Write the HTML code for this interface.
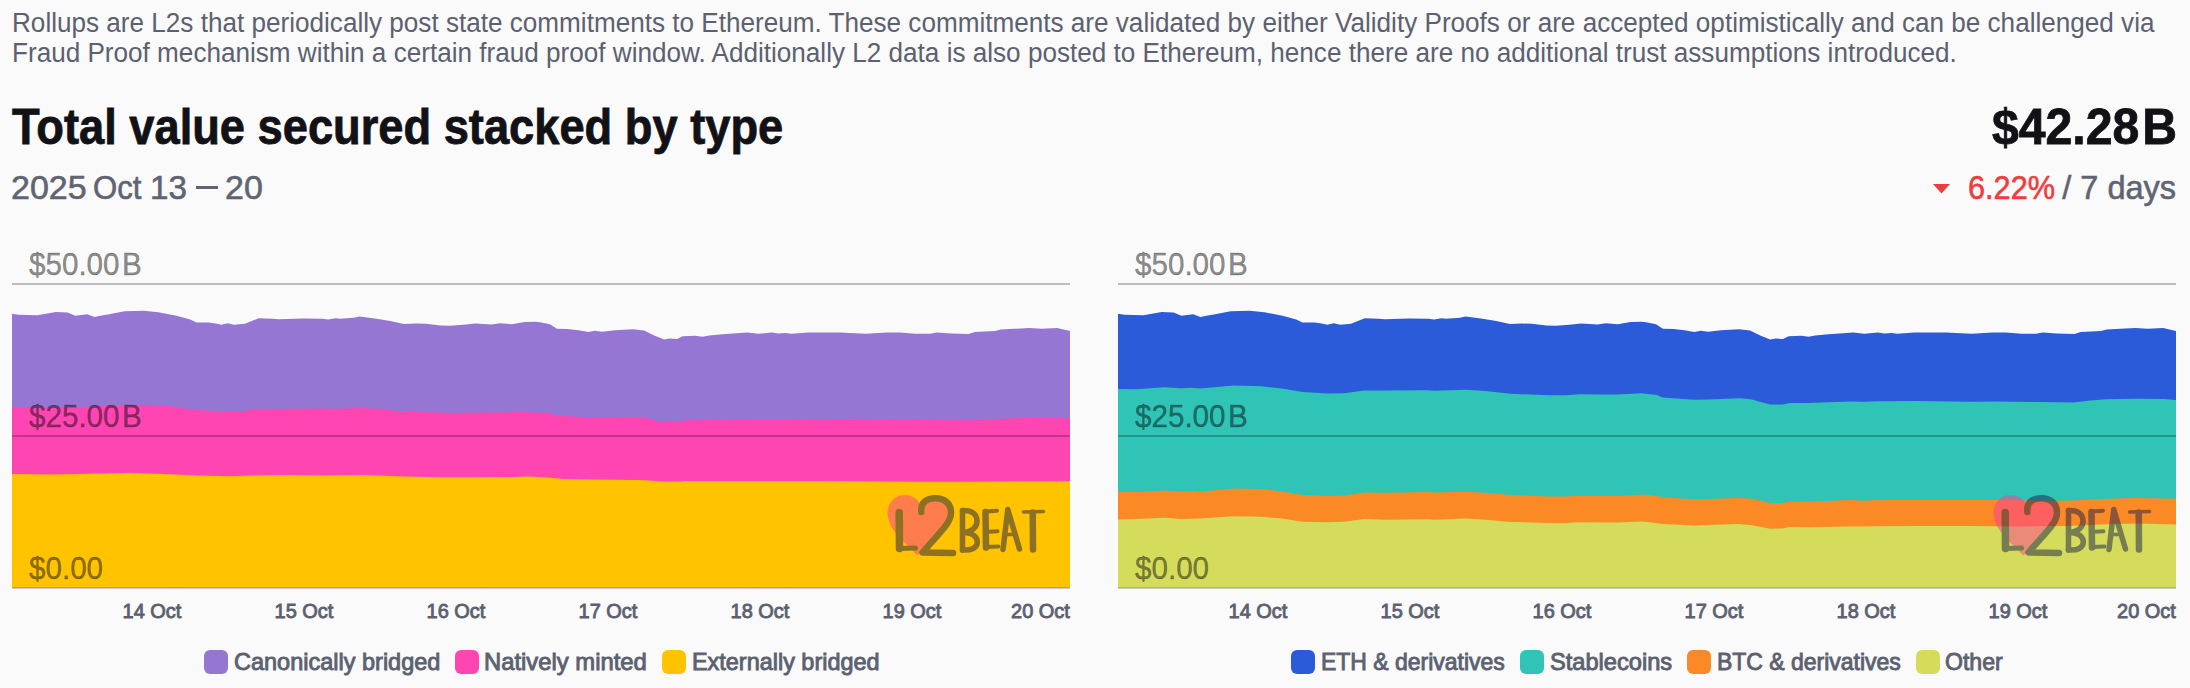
<!DOCTYPE html>
<html><head><meta charset="utf-8">
<style>
*{margin:0;padding:0;box-sizing:border-box}
html,body{width:2190px;height:688px;overflow:hidden;background:#fafafa}
body{position:relative;font-family:"Liberation Sans",sans-serif}
.t{position:absolute;white-space:nowrap;line-height:1}
.sw{position:absolute;width:24px;height:24px;border-radius:6px}
</style></head>
<body>
<svg width="2190" height="688" style="position:absolute;left:0;top:0">
<path d="M12.0 588.0 L12.0 313.7 L18.5 314.7 L37.5 315.2 L55.8 312.1 L67.6 312.4 L75.4 315.7 L87.2 314.3 L94.4 317.0 L101.6 315.4 L108.0 314.5 L124.5 311.2 L143.7 310.8 L158.3 312.3 L176.5 315.7 L190.2 319.6 L196.6 322.4 L208.5 322.6 L215.8 323.6 L221.3 324.8 L227.7 323.3 L234.1 324.8 L245.0 323.7 L258.7 318.3 L272.4 318.7 L278.8 319.2 L302.6 318.5 L322.6 318.7 L328.1 319.6 L335.4 318.3 L340.0 318.7 L353.7 317.8 L359.6 316.4 L376.5 318.7 L390.2 321.0 L403.9 323.9 L415.8 323.6 L425.8 323.7 L440.5 325.6 L449.6 325.8 L463.3 324.8 L475.2 323.6 L491.6 324.5 L499.8 323.3 L511.7 324.2 L524.5 322.1 L535.4 321.7 L540.0 322.3 L550.0 324.2 L556.9 328.7 L567.4 329.0 L578.4 330.3 L588.4 331.9 L594.8 330.8 L602.1 331.7 L614.9 330.3 L633.2 329.2 L644.1 330.5 L654.2 335.6 L664.2 339.4 L669.7 338.5 L677.0 339.0 L682.5 336.3 L695.3 335.8 L702.6 336.7 L709.0 335.4 L722.6 334.2 L740.0 333.1 L747.3 332.4 L758.3 333.7 L772.0 332.6 L778.4 333.6 L785.7 333.0 L791.1 333.7 L808.5 332.4 L840.5 332.4 L849.6 333.0 L866.0 333.7 L886.1 332.4 L899.8 332.4 L915.5 333.8 L930.1 333.8 L936.5 332.4 L951.1 333.6 L968.5 334.0 L974.9 332.0 L995.0 331.0 L1000.5 329.4 L1014.2 328.8 L1029.7 328.1 L1041.6 328.8 L1057.1 328.1 L1070.0 331.0 L1070.0 588.0 Z" fill="#9577d3"/>
<path d="M12.0 588.0 L12.0 407.4 L28.0 408.1 L65.2 407.2 L92.9 406.7 L123.3 404.7 L148.1 404.9 L168.8 406.0 L189.6 409.5 L219.9 411.3 L237.9 411.6 L258.6 409.1 L280.0 408.9 L321.4 408.5 L331.1 409.1 L360.1 408.1 L379.4 409.1 L404.3 411.6 L438.8 412.7 L466.5 412.7 L494.1 412.5 L521.7 411.9 L550.0 413.0 L555.5 415.4 L587.3 417.4 L605.2 417.4 L632.9 416.8 L646.7 418.2 L663.3 421.9 L677.1 421.9 L684.0 420.6 L715.7 420.1 L743.4 419.2 L764.1 419.9 L791.7 419.6 L820.0 419.2 L837.6 419.2 L868.0 419.9 L906.7 419.6 L934.3 420.1 L966.1 420.6 L989.6 419.2 L1031.0 417.8 L1055.9 417.8 L1070.0 418.8 L1070.0 588.0 Z" fill="#ff45b2"/>
<path d="M12.0 588.0 L12.0 474.0 L51.4 474.4 L79.0 474.0 L127.4 473.0 L148.1 473.5 L175.8 474.4 L196.5 475.5 L231.0 476.2 L251.7 475.5 L280.0 475.0 L325.6 475.4 L361.5 475.1 L404.3 476.5 L438.8 477.2 L473.4 477.2 L514.8 476.9 L528.6 476.5 L550.0 477.8 L563.8 479.0 L591.4 479.5 L639.8 479.9 L664.6 481.6 L678.5 481.6 L684.0 480.9 L743.4 480.9 L820.0 480.9 L865.2 481.3 L920.5 481.7 L966.1 481.7 L1017.2 481.3 L1070.0 481.3 L1070.0 588.0 Z" fill="#ffc300"/>
<path d="M1118.0 588.0 L1118.0 313.7 L1124.5 314.7 L1143.5 315.2 L1161.8 312.1 L1173.6 312.4 L1181.4 315.7 L1193.2 314.3 L1200.4 317.0 L1207.6 315.4 L1214.0 314.5 L1230.5 311.2 L1249.7 310.8 L1264.3 312.3 L1282.5 315.7 L1296.2 319.6 L1302.6 322.4 L1314.5 322.6 L1321.8 323.6 L1327.3 324.8 L1333.7 323.3 L1340.1 324.8 L1351.0 323.7 L1364.7 318.3 L1378.4 318.7 L1384.8 319.2 L1408.6 318.5 L1428.6 318.7 L1434.1 319.6 L1441.4 318.3 L1446.0 318.7 L1459.7 317.8 L1465.6 316.4 L1482.5 318.7 L1496.2 321.0 L1509.9 323.9 L1521.8 323.6 L1531.8 323.7 L1546.5 325.6 L1555.6 325.8 L1569.3 324.8 L1581.2 323.6 L1597.6 324.5 L1605.8 323.3 L1617.7 324.2 L1630.5 322.1 L1641.4 321.7 L1646.0 322.3 L1656.0 324.2 L1662.9 328.7 L1673.4 329.0 L1684.4 330.3 L1694.4 331.9 L1700.8 330.8 L1708.1 331.7 L1720.9 330.3 L1739.2 329.2 L1750.1 330.5 L1760.2 335.6 L1770.2 339.4 L1775.7 338.5 L1783.0 339.0 L1788.5 336.3 L1801.3 335.8 L1808.6 336.7 L1815.0 335.4 L1828.6 334.2 L1846.0 333.1 L1853.3 332.4 L1864.3 333.7 L1878.0 332.6 L1884.4 333.6 L1891.7 333.0 L1897.1 333.7 L1914.5 332.4 L1946.5 332.4 L1955.6 333.0 L1972.0 333.7 L1992.1 332.4 L2005.8 332.4 L2021.5 333.8 L2036.1 333.8 L2042.5 332.4 L2057.1 333.6 L2074.5 334.0 L2080.9 332.0 L2101.0 331.0 L2106.5 329.4 L2120.2 328.8 L2135.7 328.1 L2147.6 328.8 L2163.1 328.1 L2176.0 331.0 L2176.0 588.0 Z" fill="#2b5bd8"/>
<path d="M1118.0 588.0 L1118.0 389.1 L1136.7 389.3 L1164.3 387.3 L1180.9 388.2 L1192.0 387.7 L1200.3 388.4 L1233.4 385.6 L1261.0 386.3 L1281.7 388.6 L1302.5 392.1 L1327.3 393.5 L1343.9 393.2 L1364.6 390.4 L1386.0 390.6 L1427.4 390.3 L1434.3 390.7 L1466.1 389.8 L1485.4 391.0 L1510.3 393.8 L1549.0 395.3 L1565.6 395.3 L1579.4 394.3 L1600.1 394.6 L1618.0 394.6 L1641.5 393.2 L1650.0 394.2 L1656.9 395.1 L1662.4 397.6 L1694.2 399.7 L1708.0 399.4 L1739.8 398.3 L1750.8 399.3 L1770.2 404.5 L1782.6 404.5 L1789.5 402.9 L1808.8 402.9 L1850.3 401.5 L1864.1 401.8 L1877.9 401.2 L1915.0 401.1 L1970.2 401.8 L1997.9 401.5 L2036.5 402.0 L2073.8 402.5 L2087.7 400.7 L2105.6 399.3 L2136.0 398.7 L2163.6 399.0 L2176.0 400.1 L2176.0 588.0 Z" fill="#30c4b7"/>
<path d="M1118.0 588.0 L1118.0 492.1 L1143.6 491.8 L1164.3 490.4 L1180.9 491.8 L1193.3 491.0 L1200.3 491.8 L1233.4 488.6 L1261.0 489.1 L1281.7 491.4 L1302.5 495.1 L1327.3 496.0 L1343.9 495.6 L1364.6 492.4 L1386.0 492.8 L1427.4 492.1 L1434.3 492.5 L1466.1 491.7 L1485.4 492.8 L1510.3 495.1 L1549.0 496.5 L1565.6 496.5 L1579.4 495.7 L1600.1 496.0 L1618.0 496.0 L1641.5 494.6 L1650.0 495.3 L1656.9 496.0 L1662.4 497.6 L1694.2 499.3 L1708.0 499.0 L1738.4 497.9 L1752.2 498.7 L1770.2 503.1 L1782.6 503.1 L1789.5 501.5 L1808.8 501.8 L1850.3 500.1 L1864.1 500.7 L1877.9 500.1 L1915.0 500.1 L1970.2 500.1 L1997.9 500.1 L2053.1 500.7 L2073.8 500.4 L2101.5 499.0 L2136.0 497.9 L2176.0 498.7 L2176.0 588.0 Z" fill="#fb8a26"/>
<path d="M1118.0 588.0 L1118.0 519.4 L1136.7 519.0 L1164.3 517.7 L1180.9 519.0 L1200.3 518.6 L1233.4 516.3 L1261.0 516.7 L1281.7 518.6 L1302.5 521.8 L1327.3 522.2 L1343.9 521.8 L1364.6 519.0 L1386.0 519.8 L1427.4 519.3 L1434.3 519.7 L1466.1 518.6 L1485.4 519.7 L1510.3 521.9 L1549.0 522.9 L1565.6 522.9 L1579.4 522.2 L1600.1 522.5 L1618.0 522.5 L1641.5 521.4 L1650.0 522.2 L1662.4 523.9 L1694.2 525.5 L1738.4 524.1 L1752.2 525.2 L1770.2 528.7 L1782.6 528.4 L1789.5 527.0 L1808.8 527.3 L1850.3 526.4 L1864.1 526.6 L1877.9 526.2 L1915.0 525.9 L1970.2 525.9 L2011.7 526.4 L2066.9 525.9 L2101.5 524.6 L2136.0 523.6 L2176.0 524.6 L2176.0 588.0 Z" fill="#d5dc5b"/>
<g transform="translate(0,0)" opacity="0.5">
<path d="M917.5 555.5 C909 546 887.5 531 887.5 512.5 A17.5 17.5 0 0 1 921.3 506.2 A16 16 0 0 1 952 513 C952 529 927 545 917.5 555.5 Z" fill="#ff3a98"/>
<g fill="none" stroke="#1b214a" stroke-linecap="round" stroke-linejoin="round">
<path d="M899.2 512.5 L899.5 548.5" stroke-width="7.5"/>
<path d="M899.5 548.5 L915.5 548" stroke-width="5"/>
<path d="M921.3 512 C920.5 502 927 498.2 935.5 498.2 C944.5 498.2 951 503.5 951 512.5 C951 523 941 531 922.5 552.5 L953 553" stroke-width="6.5"/>
<path d="M962.5 510.5 L962.5 550" stroke-width="5.5"/>
<path d="M962.5 510.5 C972.5 510 977 514.5 977 521 C977 527.5 972 531 965 532.5 C973.5 533.5 977.3 537.5 977.3 542 C977.3 548 971.5 550.5 962.5 550" stroke-width="5.5"/>
<path d="M985.5 512 L986 547.5" stroke-width="6.5"/>
<path d="M986 511.5 L997 510.7" stroke-width="4"/>
<path d="M989 531.7 L997.5 531.3" stroke-width="4"/>
<path d="M986 547 L998.5 546.6" stroke-width="4"/>
<path d="M1003 549.5 L1007.8 509.5 L1019.5 549" stroke-width="5.5"/>
<path d="M1005 534.5 L1015.5 534.5" stroke-width="3.5"/>
<path d="M1023.5 512 L1043.5 511.5" stroke-width="3.5"/>
<path d="M1032.7 512.5 L1033 549.5" stroke-width="6.5"/>
</g></g>
<g transform="translate(1106,0)" opacity="0.5">
<path d="M917.5 555.5 C909 546 887.5 531 887.5 512.5 A17.5 17.5 0 0 1 921.3 506.2 A16 16 0 0 1 952 513 C952 529 927 545 917.5 555.5 Z" fill="#ff3a98"/>
<g fill="none" stroke="#1b214a" stroke-linecap="round" stroke-linejoin="round">
<path d="M899.2 512.5 L899.5 548.5" stroke-width="7.5"/>
<path d="M899.5 548.5 L915.5 548" stroke-width="5"/>
<path d="M921.3 512 C920.5 502 927 498.2 935.5 498.2 C944.5 498.2 951 503.5 951 512.5 C951 523 941 531 922.5 552.5 L953 553" stroke-width="6.5"/>
<path d="M962.5 510.5 L962.5 550" stroke-width="5.5"/>
<path d="M962.5 510.5 C972.5 510 977 514.5 977 521 C977 527.5 972 531 965 532.5 C973.5 533.5 977.3 537.5 977.3 542 C977.3 548 971.5 550.5 962.5 550" stroke-width="5.5"/>
<path d="M985.5 512 L986 547.5" stroke-width="6.5"/>
<path d="M986 511.5 L997 510.7" stroke-width="4"/>
<path d="M989 531.7 L997.5 531.3" stroke-width="4"/>
<path d="M986 547 L998.5 546.6" stroke-width="4"/>
<path d="M1003 549.5 L1007.8 509.5 L1019.5 549" stroke-width="5.5"/>
<path d="M1005 534.5 L1015.5 534.5" stroke-width="3.5"/>
<path d="M1023.5 512 L1043.5 511.5" stroke-width="3.5"/>
<path d="M1032.7 512.5 L1033 549.5" stroke-width="6.5"/>
</g></g>
<rect x="12" y="283" width="1058" height="2" fill="#000" fill-opacity="0.24"/>
<rect x="12" y="435" width="1058" height="2" fill="#000" fill-opacity="0.24"/>
<rect x="12" y="587" width="1058" height="2" fill="#5b6170" fill-opacity="0.3"/>
<rect x="1118" y="283" width="1058" height="2" fill="#000" fill-opacity="0.24"/>
<rect x="1118" y="435" width="1058" height="2" fill="#000" fill-opacity="0.24"/>
<rect x="1118" y="587" width="1058" height="2" fill="#5b6170" fill-opacity="0.3"/>
</svg>
<div class="t" style="left:12px;top:10.1px;font-size:27px;color:#5b6170;transform:scaleX(0.967);transform-origin:left top;">Rollups are L2s that periodically post state commitments to Ethereum. These commitments are validated by either Validity Proofs or are accepted optimistically and can be challenged via</div>
<div class="t" style="left:12px;top:40px;font-size:27px;color:#5b6170;transform:scaleX(0.967);transform-origin:left top;">Fraud Proof mechanism within a certain fraud proof window. Additionally L2 data is also posted to Ethereum, hence there are no additional trust assumptions introduced.</div>
<div class="t" style="left:12px;top:101.5px;font-size:50px;font-weight:bold;color:#111116;transform:scaleX(0.905);transform-origin:left top;-webkit-text-stroke:0.8px #111116;">Total value secured stacked by type</div>
<div class="t" style="right:13.2px;top:101.5px;font-size:50px;font-weight:bold;color:#111116;transform:scaleX(0.964);transform-origin:right top;-webkit-text-stroke:0.8px #111116;">$42.28<span style="margin-left:3px">B</span></div>
<div class="t" style="left:11px;top:170.1px;font-size:34px;color:#5f6472;-webkit-text-stroke:0.6px #5f6472;">2025</div>
<div class="t" style="left:93px;top:170.1px;font-size:34px;color:#5f6472;transform:scaleX(0.915);transform-origin:left top;-webkit-text-stroke:0.6px #5f6472;">Oct</div>
<div class="t" style="left:150px;top:170.1px;font-size:34px;color:#5f6472;transform:scaleX(0.976);transform-origin:left top;-webkit-text-stroke:0.6px #5f6472;">13</div>
<div class="t" style="left:225px;top:170.1px;font-size:34px;color:#5f6472;-webkit-text-stroke:0.6px #5f6472;">20</div>
<div style="position:absolute;left:196.3px;top:186.3px;width:21.4px;height:2.8px;background:#5f6472"></div>
<div class="t" style="left:1967.5px;top:170.1px;font-size:34px;color:#f03c3c;transform:scaleX(0.903);transform-origin:left top;-webkit-text-stroke:0.6px #f03c3c;">6.22%</div>
<div class="t" style="right:14px;top:170.1px;font-size:34px;color:#5f6472;transform:scaleX(0.956);transform-origin:right top;-webkit-text-stroke:0.6px #5f6472;">/ 7 days</div>
<svg width="18" height="10" style="position:absolute;left:1933px;top:183.5px"><path d="M0 0 L17 0 L8.5 9.5 Z" fill="#f03c3c"/></svg>
<div class="t" style="left:29px;top:248.6px;font-size:31px;color:rgba(0,0,0,0.46);transform:scaleX(0.955);transform-origin:left top;-webkit-text-stroke:0.4px rgba(0,0,0,0.46);">$50.00<span style="margin-left:2.5px">B</span></div>
<div class="t" style="left:29px;top:400.8px;font-size:31px;color:rgba(0,0,0,0.46);transform:scaleX(0.955);transform-origin:left top;-webkit-text-stroke:0.4px rgba(0,0,0,0.46);">$25.00<span style="margin-left:2.5px">B</span></div>
<div class="t" style="left:29px;top:552.9px;font-size:31px;color:rgba(0,0,0,0.46);transform:scaleX(0.955);transform-origin:left top;-webkit-text-stroke:0.4px rgba(0,0,0,0.46);">$0.00</div>
<div class="t" style="left:51.599999999999994px;width:200px;text-align:center;top:600px;font-size:21px;-webkit-text-stroke:0.9px #5b6170;color:#5b6170;transform:scaleX(0.95);">14 Oct</div>
<div class="t" style="left:203.60000000000002px;width:200px;text-align:center;top:600px;font-size:21px;-webkit-text-stroke:0.9px #5b6170;color:#5b6170;transform:scaleX(0.95);">15 Oct</div>
<div class="t" style="left:355.6px;width:200px;text-align:center;top:600px;font-size:21px;-webkit-text-stroke:0.9px #5b6170;color:#5b6170;transform:scaleX(0.95);">16 Oct</div>
<div class="t" style="left:507.6px;width:200px;text-align:center;top:600px;font-size:21px;-webkit-text-stroke:0.9px #5b6170;color:#5b6170;transform:scaleX(0.95);">17 Oct</div>
<div class="t" style="left:659.6px;width:200px;text-align:center;top:600px;font-size:21px;-webkit-text-stroke:0.9px #5b6170;color:#5b6170;transform:scaleX(0.95);">18 Oct</div>
<div class="t" style="left:811.6px;width:200px;text-align:center;top:600px;font-size:21px;-webkit-text-stroke:0.9px #5b6170;color:#5b6170;transform:scaleX(0.95);">19 Oct</div>
<div class="t" style="right:1120px;text-align:right;top:600px;font-size:21px;-webkit-text-stroke:0.9px #5b6170;color:#5b6170;transform:scaleX(0.95);transform-origin:right top">20 Oct</div>
<div class="t" style="left:1135px;top:248.6px;font-size:31px;color:rgba(0,0,0,0.46);transform:scaleX(0.955);transform-origin:left top;-webkit-text-stroke:0.4px rgba(0,0,0,0.46);">$50.00<span style="margin-left:2.5px">B</span></div>
<div class="t" style="left:1135px;top:400.8px;font-size:31px;color:rgba(0,0,0,0.46);transform:scaleX(0.955);transform-origin:left top;-webkit-text-stroke:0.4px rgba(0,0,0,0.46);">$25.00<span style="margin-left:2.5px">B</span></div>
<div class="t" style="left:1135px;top:552.9px;font-size:31px;color:rgba(0,0,0,0.46);transform:scaleX(0.955);transform-origin:left top;-webkit-text-stroke:0.4px rgba(0,0,0,0.46);">$0.00</div>
<div class="t" style="left:1157.6px;width:200px;text-align:center;top:600px;font-size:21px;-webkit-text-stroke:0.9px #5b6170;color:#5b6170;transform:scaleX(0.95);">14 Oct</div>
<div class="t" style="left:1309.6px;width:200px;text-align:center;top:600px;font-size:21px;-webkit-text-stroke:0.9px #5b6170;color:#5b6170;transform:scaleX(0.95);">15 Oct</div>
<div class="t" style="left:1461.6px;width:200px;text-align:center;top:600px;font-size:21px;-webkit-text-stroke:0.9px #5b6170;color:#5b6170;transform:scaleX(0.95);">16 Oct</div>
<div class="t" style="left:1613.6px;width:200px;text-align:center;top:600px;font-size:21px;-webkit-text-stroke:0.9px #5b6170;color:#5b6170;transform:scaleX(0.95);">17 Oct</div>
<div class="t" style="left:1765.6px;width:200px;text-align:center;top:600px;font-size:21px;-webkit-text-stroke:0.9px #5b6170;color:#5b6170;transform:scaleX(0.95);">18 Oct</div>
<div class="t" style="left:1917.6px;width:200px;text-align:center;top:600px;font-size:21px;-webkit-text-stroke:0.9px #5b6170;color:#5b6170;transform:scaleX(0.95);">19 Oct</div>
<div class="t" style="right:14px;text-align:right;top:600px;font-size:21px;-webkit-text-stroke:0.9px #5b6170;color:#5b6170;transform:scaleX(0.95);transform-origin:right top">20 Oct</div>
<div class="sw" style="left:204px;top:650px;background:#9577d3"></div>
<div class="t" style="left:233.5px;top:649.7px;font-size:24px;color:#5b6170;transform:scaleX(0.979);transform-origin:left top;-webkit-text-stroke:0.9px #5b6170;">Canonically bridged</div>
<div class="sw" style="left:455.3px;top:650px;background:#ff45b2"></div>
<div class="t" style="left:484.4px;top:649.7px;font-size:24px;color:#5b6170;transform:scaleX(0.9925);transform-origin:left top;-webkit-text-stroke:0.9px #5b6170;">Natively minted</div>
<div class="sw" style="left:662px;top:650px;background:#ffc300"></div>
<div class="t" style="left:691.5px;top:649.7px;font-size:24px;color:#5b6170;transform:scaleX(0.976);transform-origin:left top;-webkit-text-stroke:0.9px #5b6170;">Externally bridged</div>
<div class="sw" style="left:1291.2px;top:650px;background:#2b5bd8"></div>
<div class="t" style="left:1321.0px;top:649.7px;font-size:24px;color:#5b6170;transform:scaleX(0.957);transform-origin:left top;-webkit-text-stroke:0.9px #5b6170;">ETH &amp; derivatives</div>
<div class="sw" style="left:1520px;top:650px;background:#30c4b7"></div>
<div class="t" style="left:1549.8px;top:649.7px;font-size:24px;color:#5b6170;transform:scaleX(0.984);transform-origin:left top;-webkit-text-stroke:0.9px #5b6170;">Stablecoins</div>
<div class="sw" style="left:1687.2px;top:650px;background:#fb8a26"></div>
<div class="t" style="left:1717.1px;top:649.7px;font-size:24px;color:#5b6170;transform:scaleX(0.957);transform-origin:left top;-webkit-text-stroke:0.9px #5b6170;">BTC &amp; derivatives</div>
<div class="sw" style="left:1916.4px;top:650px;background:#d5dc5b"></div>
<div class="t" style="left:1944.6px;top:649.7px;font-size:24px;color:#5b6170;transform:scaleX(0.961);transform-origin:left top;-webkit-text-stroke:0.9px #5b6170;">Other</div>
</body></html>
